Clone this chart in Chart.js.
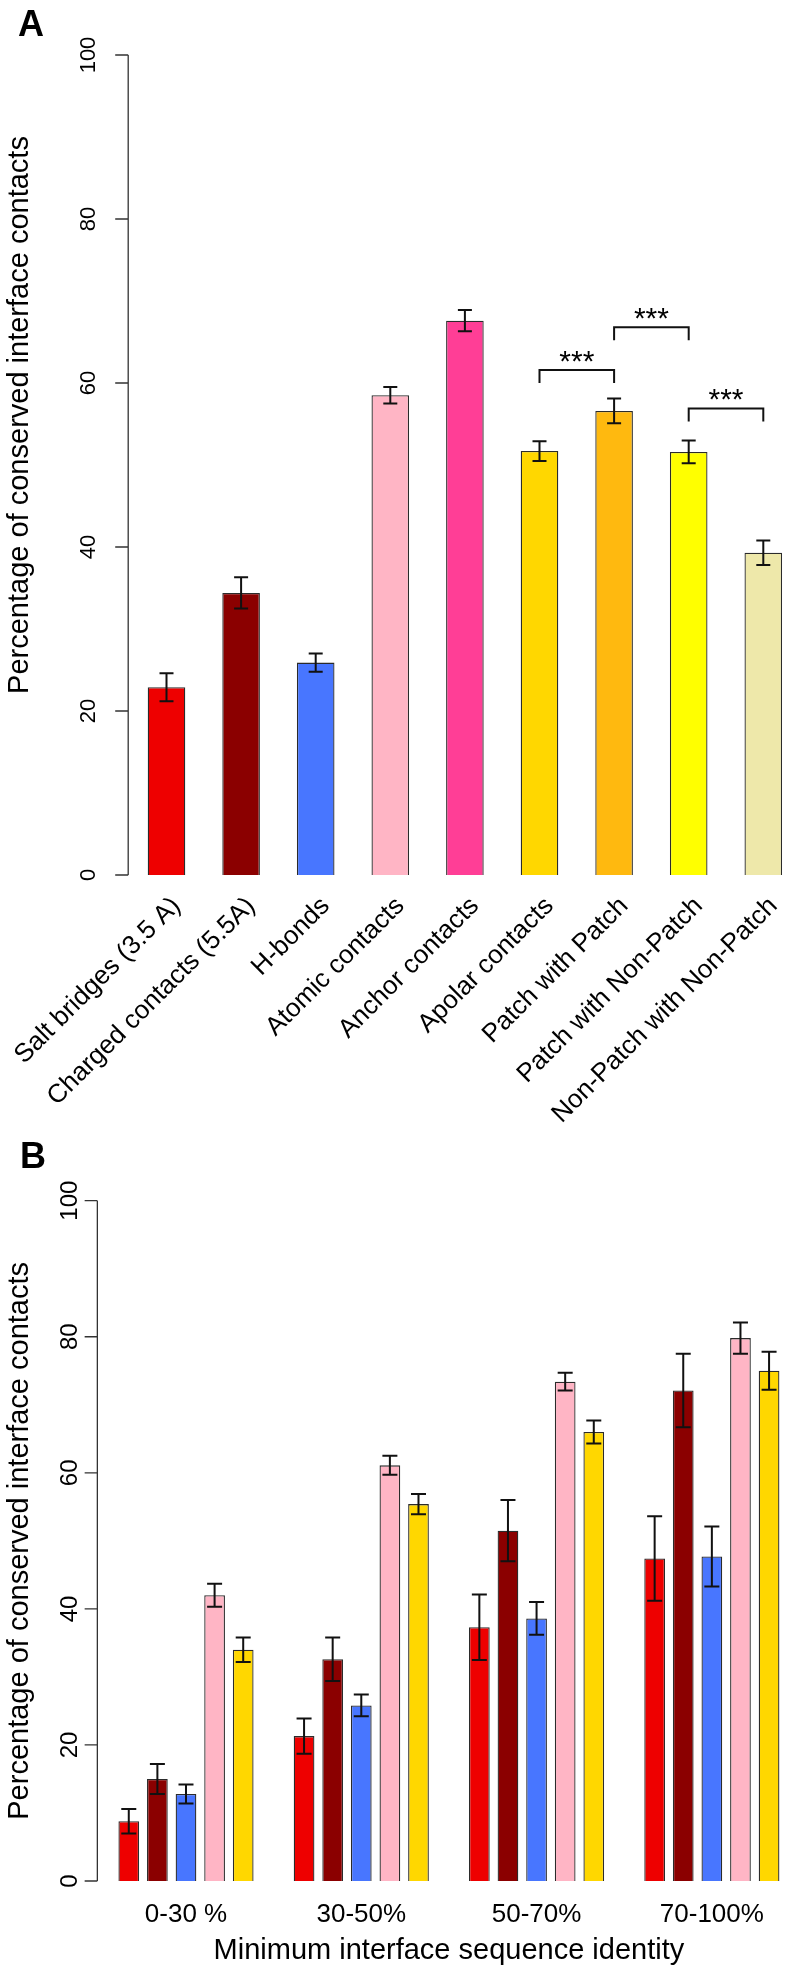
<!DOCTYPE html>
<html>
<head>
<meta charset="utf-8">
<script src="https://cdn.jsdelivr.net/npm/chart.js@4.4.1/dist/chart.umd.min.js"></script>
<style>
  html, body { margin: 0; padding: 0; background: #fff; overflow: hidden; }
  #wrap { position: relative; width: 790px; height: 1972px; overflow: hidden; }
  canvas { position: absolute; left: 0; }
  #panelA { top: 0; }
  #panelB { top: 1130px; }
</style>
</head>
<body>
<div id="wrap">
  <canvas id="panelA" width="810" height="1130"></canvas>
  <canvas id="panelB" width="810" height="842"></canvas>
</div>
<script>
// Panel A: contact types
const categoriesA = ['Salt bridges (3.5 A)', 'Charged contacts (5.5A)', 'H-bonds', 'Atomic contacts',
    'Anchor contacts', 'Apolar contacts', 'Patch with Patch', 'Patch with Non-Patch', 'Non-Patch with Non-Patch'];
const valuesA = [22.9, 34.4, 25.9, 58.5, 67.6, 51.7, 56.6, 51.6, 39.3];
const errorsA = [1.7, 1.9, 1.1, 1.0, 1.3, 1.2, 1.5, 1.4, 1.5];
const colorsA = ['#EE0000', '#8B0000', '#4876FF', '#FFB5C5', '#FF3E96', '#FFD700', '#FFB90F', '#FFFF00', '#EEE8AA'];

// significance brackets (bar index pairs and the height of the bracket)
const sigPairs = [[5, 6], [6, 7], [7, 8]];
const sigHeights = [61.6, 66.8, 56.9];

// Panel B: by sequence identity
const groupsB = ['0-30 %', '30-50%', '50-70%', '70-100%'];
const seriesNamesB = ['Salt bridges (3.5 A)', 'Charged contacts (5.5A)', 'H-bonds', 'Atomic contacts', 'Apolar contacts'];
const saltB = [8.8, 21.3, 37.3, 47.4];
const saltErrB = [1.8, 2.6, 4.8, 6.2];
const chargedB = [15.0, 32.6, 51.5, 72.1];
const chargedErrB = [2.2, 3.2, 4.5, 5.4];
const hbondsB = [12.8, 25.8, 38.6, 47.7];
const hbondsErrB = [1.4, 1.6, 2.4, 4.4];
const atomicB = [42.0, 61.1, 73.4, 79.8];
const atomicErrB = [1.7, 1.4, 1.3, 2.3];
const apolarB = [34.0, 55.4, 66.0, 75.0];
const apolarErrB = [1.8, 1.5, 1.7, 2.8];
const colorsB = ['#EE0000', '#8B0000', '#4876FF', '#FFB5C5', '#FFD700'];

const yTicks = [0, 20, 40, 60, 80, 100];
const yTitle = 'Percentage of conserved interface contacts';
const xTitleB = 'Minimum interface sequence identity';

const FONT = '"Liberation Sans", Arial, Helvetica, sans-serif';

// y axis in R style: line only from 0 to 100, rotated tick labels
const rAxis = {
    id: 'rAxis',
    afterDraw(chart, args, o) {
        const ctx = chart.ctx, y = chart.scales.y, area = chart.chartArea;
        const x0 = area.left - 1;
        ctx.save();
        ctx.strokeStyle = '#333';
        ctx.lineWidth = 1.3;
        ctx.beginPath();
        ctx.moveTo(x0, y.getPixelForValue(yTicks[0]));
        ctx.lineTo(x0, y.getPixelForValue(yTicks[yTicks.length - 1]));
        yTicks.forEach(t => {
            const py = y.getPixelForValue(t);
            ctx.moveTo(x0, py);
            ctx.lineTo(x0 - o.tickLen, py);
        });
        ctx.stroke();

        ctx.fillStyle = '#000';
        ctx.textAlign = 'center';
        ctx.textBaseline = 'alphabetic';
        ctx.font = o.tickFont + 'px ' + FONT;
        yTicks.forEach(t => {
            ctx.save();
            ctx.translate(x0 - o.tickGap, y.getPixelForValue(t));
            ctx.rotate(-Math.PI / 2);
            ctx.fillText(String(t), 0, 0);
            ctx.restore();
        });

        ctx.font = '29px ' + FONT;
        ctx.save();
        ctx.translate(28, (area.top + area.bottom) / 2 + o.titleShift);
        ctx.rotate(-Math.PI / 2);
        ctx.fillText(yTitle, 0, 0);
        ctx.restore();

        // panel letter
        ctx.font = 'bold 36px ' + FONT;
        ctx.textAlign = 'left';
        ctx.fillText(o.letter, o.letterX, o.letterY);
        ctx.restore();
    }
};

const errorBars = {
    id: 'errorBars',
    afterDatasetsDraw(chart, args, o) {
        const ctx = chart.ctx, y = chart.scales.y;
        ctx.save();
        ctx.strokeStyle = '#111';
        ctx.lineWidth = 2;
        chart.data.datasets.forEach((ds, di) => {
            chart.getDatasetMeta(di).data.forEach((bar, i) => {
                const top = y.getPixelForValue(ds.data[i] + ds.errors[i]);
                const bot = y.getPixelForValue(ds.data[i] - ds.errors[i]);
                ctx.beginPath();
                ctx.moveTo(bar.x, top); ctx.lineTo(bar.x, bot);
                ctx.moveTo(bar.x - o.cap, top); ctx.lineTo(bar.x + o.cap, top);
                ctx.moveTo(bar.x - o.cap, bot); ctx.lineTo(bar.x + o.cap, bot);
                ctx.stroke();
            });
        });
        ctx.restore();
    }
};

// rotated category labels and the *** brackets of panel A
const panelAExtras = {
    id: 'panelAExtras',
    afterDraw(chart) {
        const ctx = chart.ctx, y = chart.scales.y, area = chart.chartArea;
        const bars = chart.getDatasetMeta(0).data;
        ctx.save();
        ctx.fillStyle = '#000';
        ctx.font = '26px ' + FONT;
        ctx.textAlign = 'right';
        ctx.textBaseline = 'middle';
        categoriesA.forEach((lab, i) => {
            ctx.save();
            ctx.translate(bars[i].x + 10, area.bottom + 27);
            ctx.rotate(-Math.PI / 4);
            ctx.fillText(lab, 0, 0);
            ctx.restore();
        });

        ctx.strokeStyle = '#111';
        ctx.lineWidth = 2;
        ctx.font = '30px ' + FONT;
        ctx.textAlign = 'center';
        ctx.textBaseline = 'alphabetic';
        sigPairs.forEach(([a, b], k) => {
            const xa = bars[a].x, xb = bars[b].x;
            const yl = y.getPixelForValue(sigHeights[k]);
            const yd = y.getPixelForValue(sigHeights[k] - 1.6);
            ctx.beginPath();
            ctx.moveTo(xa, yd); ctx.lineTo(xa, yl); ctx.lineTo(xb, yl); ctx.lineTo(xb, yd);
            ctx.stroke();
            ctx.fillText('***', (xa + xb) / 2, yl + 1);
        });
        ctx.restore();
    }
};

const panelBExtras = {
    id: 'panelBExtras',
    afterDraw(chart) {
        const ctx = chart.ctx, x = chart.scales.x, area = chart.chartArea;
        ctx.save();
        ctx.fillStyle = '#000';
        ctx.textAlign = 'center';
        ctx.textBaseline = 'alphabetic';
        ctx.font = '26px ' + FONT;
        groupsB.forEach((g, i) => ctx.fillText(g, x.getPixelForValue(i), area.bottom + 41));
        ctx.font = '29px ' + FONT;
        ctx.fillText(xTitleB, (area.left + area.right) / 2, area.bottom + 78);
        ctx.restore();
    }
};

function makeCharts() {
    Chart.defaults.font.family = FONT;

    new Chart(document.getElementById('panelA'), {
        type: 'bar',
        data: {
            labels: categoriesA,
            datasets: [{
                data: valuesA,
                errors: errorsA,
                backgroundColor: colorsA,
                borderColor: '#2b2b2b',
                borderWidth: 1.3,
                barPercentage: 0.504,
                categoryPercentage: 1
            }]
        },
        options: {
            responsive: false,
            animation: false,
            devicePixelRatio: 1,
            layout: { padding: { left: 129.2, right: 9.4, top: 55, bottom: 255 } },
            scales: {
                x: { display: false, offset: true },
                y: { display: false, min: 0, max: 100 }
            },
            plugins: {
                legend: { display: false },
                tooltip: { enabled: false },
                errorBars: { cap: 7 },
                rAxis: { tickLen: 13, tickGap: 33.5, tickFont: 22, titleShift: -50, letter: 'A', letterX: 18, letterY: 36 }
            }
        },
        plugins: [errorBars, rAxis, panelAExtras]
    });

    const seriesB = [saltB, chargedB, hbondsB, atomicB, apolarB];
    const errsB = [saltErrB, chargedErrB, hbondsErrB, atomicErrB, apolarErrB];

    new Chart(document.getElementById('panelB'), {
        type: 'bar',
        data: {
            labels: groupsB,
            datasets: seriesB.map((vals, k) => ({
                label: seriesNamesB[k],
                data: vals,
                errors: errsB[k],
                backgroundColor: colorsB[k],
                borderColor: '#2b2b2b',
                borderWidth: 1.3,
                barPercentage: 0.724,
                categoryPercentage: 0.816
            }))
        },
        options: {
            responsive: false,
            animation: false,
            devicePixelRatio: 1,
            layout: { padding: { left: 98.35, right: 10.5, top: 70.7, bottom: 91 } },
            scales: {
                x: { display: false, offset: true },
                y: { display: false, min: 0, max: 100 }
            },
            plugins: {
                legend: { display: false },
                tooltip: { enabled: false },
                errorBars: { cap: 7.5 },
                rAxis: { tickLen: 12.7, tickGap: 20.7, tickFont: 24, titleShift: 0, letter: 'B', letterX: 20, letterY: 38 }
            }
        },
        plugins: [errorBars, rAxis, panelBExtras]
    });
}

document.addEventListener('DOMContentLoaded', makeCharts);
</script>
</body>
</html>
